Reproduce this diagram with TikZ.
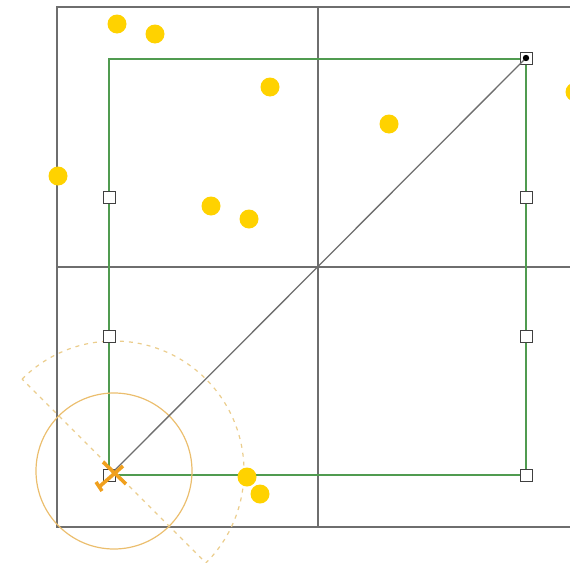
\documentclass[tikz,border=0pt]{standalone}
\definecolor{gridgray}{RGB}{110,110,110}
\definecolor{framegreen}{RGB}{80,155,80}
\definecolor{dotyellow}{RGB}{255,210,0}
\definecolor{ringorange}{RGB}{235,190,110}
\definecolor{dashtan}{RGB}{235,205,140}
\definecolor{crossorange}{RGB}{240,160,30}
\begin{document}
\begin{tikzpicture}[x=1pt,y=-1pt,
  gridline/.style={draw=gridgray, line width=1.4pt},
  frame/.style={draw=framegreen, line width=1.3pt},
  handle/.style={draw=black!75, fill=white, line width=1pt, minimum size=12pt, inner sep=0pt},
  dot/.style={circle, fill=dotyellow, inner sep=0pt, minimum size=19pt},
  ring/.style={draw=ringorange, line width=1.2pt},
  dashring/.style={draw=dashtan, line width=1.2pt, dash pattern=on 4pt off 5pt},
  crossline/.style={draw=crossorange, line width=3.6pt}]
\useasboundingbox (0,0) rectangle (570,562);
% grid
\draw[gridline] (57,7) rectangle (579,527);
\draw[gridline] (318,7) -- (318,527);
\draw[gridline] (57,267) -- (579,267);
% green frame
\draw[frame] (109,59) rectangle (526,475);
% circles
\draw[ring] (114,471) circle (78);
\draw[dashring] (114,471) ++(225:130) arc[start angle=225, end angle=405, radius=130] -- cycle;
% handles
\node[handle] (hl1) at (109,197) {};
\node[handle] (hl2) at (109,336) {};
\node[handle] (hbl) at (109,475) {};
\node[handle] (htr) at (526,58) {};
\node[handle] (hr1) at (526,197) {};
\node[handle] (hr2) at (526,336) {};
\node[handle] (hbr) at (526,475) {};
% diagonal
\coordinate (cur) at (112,473);
\draw[draw=gridgray, line width=1.3pt] (htr.center) -- (cur);
\fill[black] (htr.center) circle (3.2);
% cursor cross
\draw[crossline] (103,462) -- (126,484);
\draw[crossline] (123,466) -- (99,487);
\draw[crossline] (96,482) -- (102,491);
% dots
\foreach \p in {(117,24),(155,34),(270,87),(58,176),(211,206),(249,219),(389,124),(575,92),(247,477),(260,494)}
  \node[dot] at \p {};
\end{tikzpicture}
\end{document}
